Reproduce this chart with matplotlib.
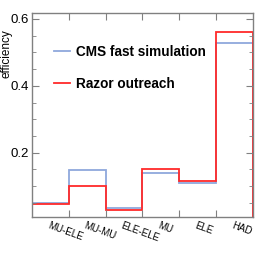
import matplotlib
matplotlib.use("Agg")
import matplotlib.pyplot as plt
from matplotlib.ticker import MultipleLocator, FixedLocator, NullFormatter

# --- data ---
kategorier = ["MU-ELE", "MU-MU", "ELE-ELE", "MU", "ELE", "HAD"]
cms_fast = [0.050, 0.148, 0.035, 0.138, 0.108, 0.529]
razor = [0.046, 0.101, 0.028, 0.150, 0.116, 0.562]

plt.rcParams["font.family"] = ["Liberation Sans", "DejaVu Sans"]

fig = plt.figure(figsize=(2.66, 2.59), dpi=100)
ax = fig.add_axes([0.120, 0.162, 0.831, 0.788])

kanter = list(range(len(kategorier) + 1))
ax.stairs(cms_fast, kanter, color="#8fa8dc", lw=1.3, label="CMS fast simulation")
ax.stairs(razor, kanter, color="#ff2a2a", lw=1.3, label="Razor outreach")

ax.set_xlim(0, len(kategorier))
ax.set_ylim(0.0075, 0.618)

ax.xaxis.set_major_locator(FixedLocator(kanter[1:-1]))
ax.xaxis.set_major_formatter(NullFormatter())
ax.yaxis.set_major_locator(MultipleLocator(0.2))
ax.yaxis.set_minor_locator(MultipleLocator(0.05))

grey = "#808080"
for s in ax.spines.values():
    s.set_color(grey)
    s.set_linewidth(1.0)
ax.tick_params(which="both", direction="in", top=True, right=True, colors=grey,
               labelcolor="black", labelsize=9.5, pad=2)
ax.tick_params(which="major", length=5)
ax.tick_params(which="minor", length=3)

for i, k in enumerate(kategorier):
    ax.text(i + 0.48, -0.015, k, transform=ax.get_xaxis_transform(), fontsize=7,
            rotation=-20, rotation_mode="anchor", ha="left", va="top")

ax.set_ylabel("efficiency", fontsize=8.5, loc="top")
ax.yaxis.set_label_coords(-0.09, 0.92)

leg = ax.legend(loc="upper left", bbox_to_anchor=(0.045, 0.905), frameon=False,
                prop={"weight": "bold", "size": 9.8}, handlelength=1.2,
                handletextpad=0.4, labelspacing=1.35)

fig.savefig("out.png", dpi=100)
